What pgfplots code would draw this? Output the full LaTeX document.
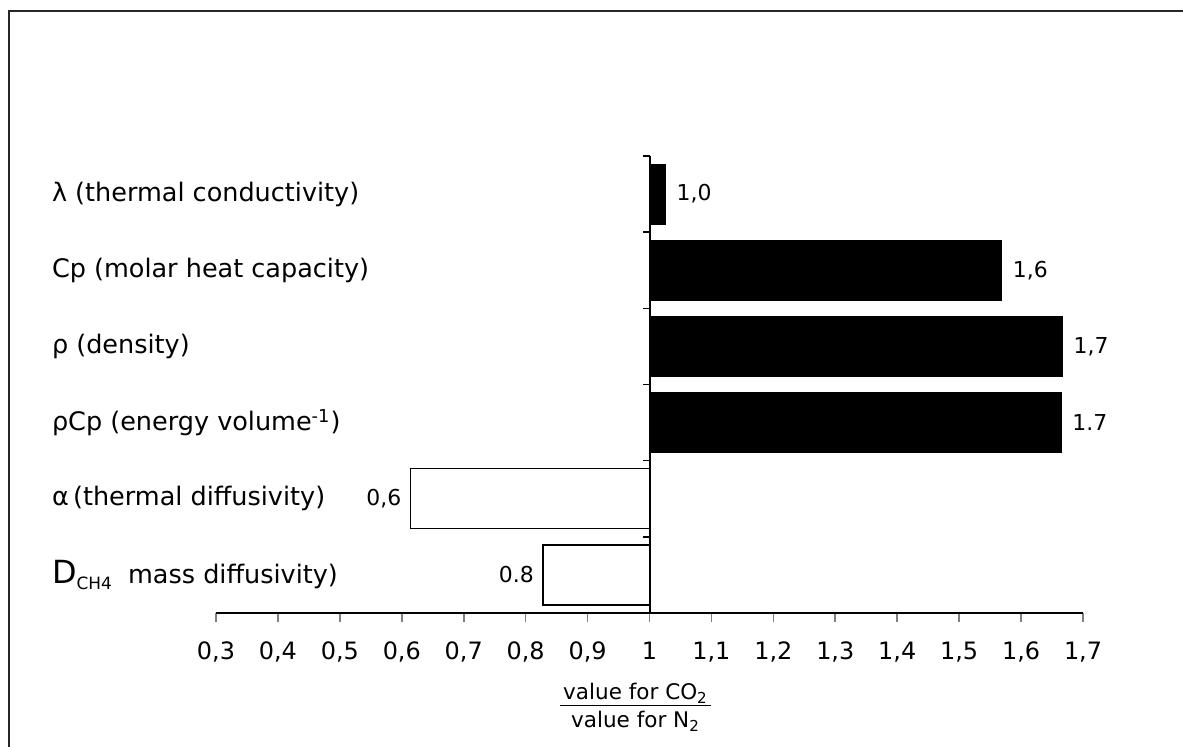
\documentclass[border=0pt]{standalone}
\usepackage{pgfplots}
\usepackage{pgfplotstable}
\pgfplotsset{compat=1.18}
\usepackage{fontspec}
\setmainfont{DejaVu Sans}

% y = category position (5 = top), v = ratio CO2/N2, lab = printed value
% bars start at ratio 1: axis x is plotted as (ratio - 1)
\pgfplotstableread{
y v lab
5 1.026 1,0
4 1.569 1,6
3 1.667 1,7
2 1.665 1.7
}\posdata
\pgfplotstableread{
y v lab
1 0.614 0,6
0 0.828 0.8
}\negdata

\begin{document}
\begin{tikzpicture}
\draw[black!85, line width=0.8bp] (4.5bp,0bp) -- (4.5bp,368bp) -- (591.5bp,368bp);
\begin{axis}[
  at={(108bp,67bp)}, anchor=south west,
  scale only axis,
  width=433.5bp, height=228.5bp,
  xmin=-0.7, xmax=0.7,
  ymin=-0.5, ymax=5.5,
  axis x line*=bottom,
  axis y line*=left,
  y axis line style={draw=none},
  axis line style={-, line width=1bp},
  xtick={-0.7,-0.6,-0.5,-0.4,-0.3,-0.2,-0.1,0,0.1,0.2,0.3,0.4,0.5,0.6,0.7},
  xticklabels={{0,3},{0,4},{0,5},{0,6},{0,7},{0,8},{0,9},{1},{1,1},{1,2},{1,3},{1,4},{1,5},{1,6},{1,7}},
  tick align=outside,
  major tick length=4.5bp,
  xtick style={line width=0.8bp},
  xticklabel style={font=\fontsize{12}{14}\selectfont, yshift=-6.5bp},
  ytick={0,1,2,3,4,5},
  yticklabels={
    {{\fontsize{16}{16}\selectfont D}\raisebox{-0.4ex}{\fontsize{8.5}{9}\selectfont CH4}\ \ mass diffusivity)},
    {α\,(thermal diffusivity)},
    {ρCp (energy volume\textsuperscript{-1})},
    {ρ (density)},
    {Cp (molar heat capacity)},
    {λ (thermal conductivity)}},
  ytick style={draw=none},
  yticklabel style={anchor=west, xshift=-81bp, font=\fontsize{12.8}{15}\selectfont},
  xlabel={\setlength{\tabcolsep}{1.5pt}\begin{tabular}{c}value for CO\textsubscript{2}\\[-1pt]\hline\rule{0pt}{11pt}value for N\textsubscript{2}\end{tabular}},
  xlabel style={font=\fontsize{10.8}{12}\selectfont, xshift=-7bp, yshift=-3.5bp},
  clip=false,
]
\addplot[xbar, bar width=30bp, fill=black, draw=black,
  point meta=explicit symbolic, nodes near coords,
  nodes near coords style={anchor=west, xshift=2bp, font=\fontsize{11}{12}\selectfont}]
  table[x expr=\thisrow{v}-1, y=y, meta=lab] {\posdata};
\addplot[xbar, bar width=30bp, fill=white, draw=black, line width=0.6bp,
  point meta=explicit symbolic, nodes near coords,
  nodes near coords style={anchor=east, xshift=-1bp, font=\fontsize{11}{12}\selectfont}]
  table[x expr=\thisrow{v}-1, y=y, meta=lab] {\negdata};
\draw[line width=1bp] (axis cs:0,-0.5) -- (axis cs:0,5.5);
\draw[line width=0.8bp] (axis cs:0,0.5) -- ++(-3.5bp,0bp);
\draw[line width=0.8bp] (axis cs:0,1.5) -- ++(-3.5bp,0bp);
\draw[line width=0.8bp] (axis cs:0,2.5) -- ++(-3.5bp,0bp);
\draw[line width=0.8bp] (axis cs:0,3.5) -- ++(-3.5bp,0bp);
\draw[line width=0.8bp] (axis cs:0,4.5) -- ++(-3.5bp,0bp);
\draw[line width=0.8bp] (axis cs:0,5.5) -- ++(-3.5bp,0bp);
\end{axis}
\pgfresetboundingbox
\path[use as bounding box] (0bp,0bp) rectangle (591.5bp,373.5bp);
\end{tikzpicture}
\end{document}
